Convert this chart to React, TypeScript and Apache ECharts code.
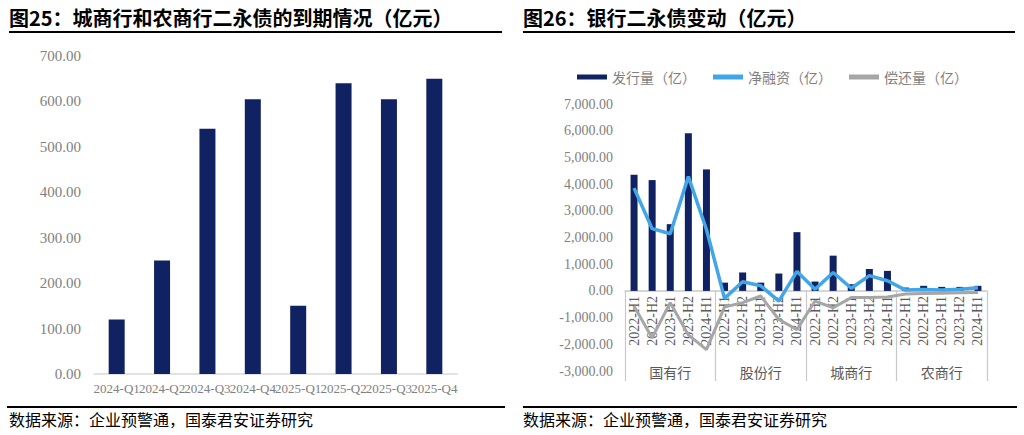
import React, { useEffect, useRef } from "react";
import * as echarts from "echarts";

const leftCategories = ["2024-Q1", "2024-Q2", "2024-Q3", "2024-Q4", "2025-Q1", "2025-Q2", "2025-Q3", "2025-Q4"];
const leftValues = [120, 250, 540, 605, 150, 640, 605, 650];

const periods = ["2022-H1", "2022-H2", "2023-H1", "2023-H2", "2024-H1"];
const bankGroups = ["国有行", "股份行", "城商行", "农商行"];
const rightCategories = bankGroups.flatMap(() => periods);

const issuance = [
  4350, 4150, 2500, 5900, 4550,
  310, 690, 310, 650, 2200,
  350, 1320, 250, 820, 750,
  125, 190, 150, 150, 190,
];
const netFinancing = [
  3850, 2330, 2140, 4280, 2300,
  -280, 340, 190, -380, 730,
  60, 690, 100, 570, 380,
  30, 50, 30, 60, 120,
];
const repayment = [
  -570, -1760, -440, -1650, -2200,
  -600, -440, -190, -1070, -1450,
  -380, -630, -250, -250, -230,
  -120, -100, -90, -70, -60,
];

const leftTitle = "图25：城商行和农商行二永债的到期情况（亿元）";
const rightTitle = "图26：银行二永债变动（亿元）";
const sourceText = "数据来源：企业预警通，国泰君安证券研究";

const NAVY = "#102262";
const BLUE = "#41a6e8";
const GRAY = "#a6a6a6";
const CJK = '"Noto Sans CJK SC", sans-serif';
const NUM = '"Liberation Serif", serif';

const R_MIN = -3000;
const R_MAX = 7000;
const R_TOP = 104;
const R_HEIGHT = 267;

export default function App() {
  const ref = useRef<HTMLDivElement>(null);
  useEffect(() => {
    if (!ref.current) return;
    const chart = echarts.init(ref.current, undefined, { renderer: "svg" });
    const fmt2 = (v: number) =>
      v.toLocaleString("en-US", { minimumFractionDigits: 2, maximumFractionDigits: 2 });
    // distance from grid bottom up to the zero line
    const zeroUp = (R_HEIGHT * (0 - R_MIN)) / (R_MAX - R_MIN);
    chart.setOption({
      animation: false,
      backgroundColor: "#ffffff",
      textStyle: { fontFamily: CJK },
      legend: {
        left: 572,
        top: 65,
        itemWidth: 30,
        itemHeight: 5,
        itemGap: 17,
        icon: "rect",
        textStyle: { fontSize: 14, color: "#7f7f7f", fontFamily: CJK },
        data: ["发行量（亿）", "净融资（亿）", "偿还量（亿）"],
      },
      grid: [
        { left: 94, width: 363, top: 56, height: 318 },
        { left: 625, width: 362, top: R_TOP, height: R_HEIGHT },
      ],
      xAxis: [
        {
          type: "category",
          gridIndex: 0,
          data: leftCategories,
          axisLine: { lineStyle: { color: "#d9d9d9", width: 1.5 } },
          axisTick: { show: false },
          axisLabel: { interval: 0, margin: 8, fontSize: 13, color: "#808080", fontFamily: NUM },
        },
        {
          type: "category",
          gridIndex: 1,
          position: "bottom",
          offset: -zeroUp,
          data: rightCategories,
          axisLine: { onZero: false, lineStyle: { color: "#c8c8c8", width: 1.5 } },
          axisTick: { show: false },
          axisLabel: { interval: 0, rotate: 90, margin: 5, fontSize: 14, color: "#595959", fontFamily: NUM },
        },
        {
          type: "category",
          gridIndex: 1,
          position: "bottom",
          offset: 10,
          data: bankGroups,
          axisLine: { show: false, onZero: false },
          axisTick: { show: true, inside: true, length: 10 + zeroUp, lineStyle: { color: "#c8c8c8", width: 1.2 } },
          axisLabel: { interval: 0, margin: -16, fontSize: 14, color: "#595959", fontFamily: CJK },
        },
      ],
      yAxis: [
        {
          type: "value",
          gridIndex: 0,
          min: 0,
          max: 700,
          interval: 100,
          splitLine: { show: false },
          axisLine: { show: false },
          axisTick: { show: false },
          axisLabel: { margin: 13, fontSize: 15, color: "#808080", fontFamily: NUM, formatter: (v: number) => v.toFixed(2) },
        },
        {
          type: "value",
          gridIndex: 1,
          min: R_MIN,
          max: R_MAX,
          interval: 1000,
          splitLine: { show: false },
          axisLine: { show: false },
          axisTick: { show: false },
          axisLabel: { margin: 12, fontSize: 14, color: "#808080", fontFamily: NUM, formatter: fmt2 },
        },
      ],
      series: [
        {
          name: "到期量",
          type: "bar",
          xAxisIndex: 0,
          yAxisIndex: 0,
          barWidth: 16,
          itemStyle: { color: NAVY },
          data: leftValues,
        },
        {
          name: "发行量（亿）",
          type: "bar",
          xAxisIndex: 1,
          yAxisIndex: 1,
          barWidth: 7,
          itemStyle: { color: NAVY },
          data: issuance,
        },
        {
          name: "偿还量（亿）",
          type: "line",
          xAxisIndex: 1,
          yAxisIndex: 1,
          showSymbol: false,
          symbol: "none",
          lineStyle: { color: GRAY, width: 3 },
          itemStyle: { color: GRAY },
          data: repayment,
        },
        {
          name: "净融资（亿）",
          type: "line",
          xAxisIndex: 1,
          yAxisIndex: 1,
          showSymbol: false,
          symbol: "none",
          lineStyle: { color: BLUE, width: 3.5 },
          itemStyle: { color: BLUE },
          data: netFinancing,
        },
      ],
      graphic: [
        { type: "text", left: 9, top: 7, style: { text: leftTitle, font: `bold 20px ${CJK}`, fill: "#000" } },
        { type: "text", left: 523, top: 7, style: { text: rightTitle, font: `bold 20px ${CJK}`, fill: "#000" } },
        { type: "line", shape: { x1: 9, y1: 32, x2: 502, y2: 32 }, style: { stroke: "#000", lineWidth: 2 } },
        { type: "line", shape: { x1: 523, y1: 32, x2: 1015, y2: 32 }, style: { stroke: "#000", lineWidth: 2 } },
        { type: "line", shape: { x1: 7, y1: 407, x2: 505, y2: 407 }, style: { stroke: "#000", lineWidth: 2 } },
        { type: "line", shape: { x1: 523, y1: 407, x2: 1017, y2: 407 }, style: { stroke: "#000", lineWidth: 2 } },
        { type: "text", left: 9, top: 411, style: { text: sourceText, font: `16px ${CJK}`, fill: "#000" } },
        { type: "text", left: 523, top: 411, style: { text: sourceText, font: `16px ${CJK}`, fill: "#000" } },
      ],
    });
    return () => chart.dispose();
  }, []);
  return (
    <div
      ref={ref}
      style={{ position: "absolute", left: 0, top: 0, width: 1024, height: 435, background: "#fff" }}
    />
  );
}
